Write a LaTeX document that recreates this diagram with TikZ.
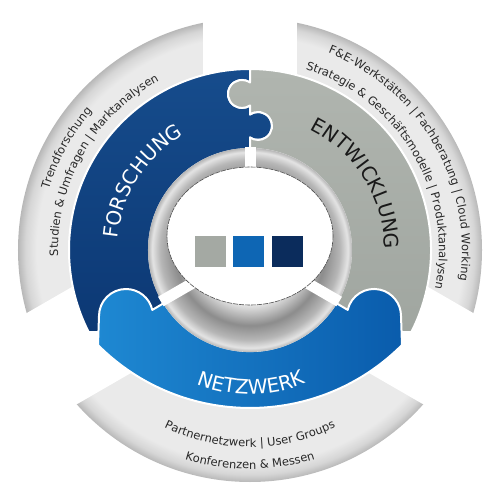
\documentclass[tikz,border=0pt]{standalone}
\usepackage{fontspec}
\setmainfont{DejaVu Sans}
\usepackage{tikz}
\usetikzlibrary{positioning, decorations.text}
\usepackage{xcolor}
\definecolor{ringlight}{RGB}{234,234,234}
\definecolor{ringmid}{RGB}{214,214,214}
\definecolor{ringdark}{RGB}{184,184,184}
\definecolor{metallight}{RGB}{228,228,228}
\definecolor{metalmid}{RGB}{182,182,182}
\definecolor{metaldark}{RGB}{140,140,140}
\definecolor{forschungtop}{RGB}{22,76,140}
\definecolor{forschungbottom}{RGB}{12,56,116}
\definecolor{entwicklungtop}{RGB}{176,181,175}
\definecolor{entwicklungbottom}{RGB}{160,166,160}
\definecolor{netzwerkleft}{RGB}{30,136,210}
\definecolor{netzwerkright}{RGB}{10,92,172}
\definecolor{squaregray}{RGB}{164,169,163}
\definecolor{squareblue}{RGB}{14,102,180}
\definecolor{squarenavy}{RGB}{11,44,92}
\definecolor{ringtext}{RGB}{40,40,40}
\pgfdeclareradialshading{outerring}{\pgfpointorigin}{color(0bp)=(ringlight); color(23bp)=(ringlight); color(24.2bp)=(ringmid); color(25bp)=(ringdark); color(50bp)=(ringdark)}
\pgfdeclareradialshading{metalring}{\pgfpointorigin}{color(0bp)=(metallight); color(13.5bp)=(metallight); color(18.5bp)=(metaldark); color(22bp)=(metalmid); color(24bp)=(metallight); color(25bp)=(metalmid); color(50bp)=(metalmid)}
\newcommand\bandfont{\fontsize{20}{24}\selectfont}
\newcommand\ringfont{\fontsize{11.5}{14}\selectfont}
\tikzset{piece/.style={draw=white, line width=2pt, line join=round},colorsquare/.style={rectangle, minimum size=31pt, inner sep=0pt},gapband/.style={fill=white}}

\begin{document}
\begin{tikzpicture}[
        x=1pt, y=1pt,
        bandlabel/.style={decorate, decoration={text along path, text align=center, text format delimiters={[}{]}, text color=#1}},
        ringlabel/.style={decorate, decoration={text along path, text align=center, text format delimiters={[}{]}, text color=ringtext}},
    ]
        \useasboundingbox (-250,-250) rectangle (250,250);
        % Outer ring
        \shade[shading=outerring] (0,0) circle[radius=232];
        % Gaps between the outer segments
        \fill[gapband, rotate=90] (0,-47) rectangle (250,47);
        \fill[gapband, rotate=210] (0,-57) rectangle (250,47);
        \fill[gapband, rotate=330] (0,-47) rectangle (250,57);
        % Puzzle pieces
        \shade[piece, top color=forschungtop, bottom color=forschungbottom]
            (0,181) arc[start angle=90, end angle=207, radius=181] -- (-150,-82) -- (-110,-75) -- (214:101)
            arc[start angle=214, end angle=90, radius=101] -- (0,112.56)
            arc[start angle=-125, end angle=125, radius=14] -- (0,144.56)
            arc[start angle=305, end angle=55, radius=14] -- cycle;
        \shade[piece, top color=entwicklungtop, bottom color=entwicklungbottom]
            (0,181) -- (0,167.5) arc[start angle=55, end angle=305, radius=14] -- (0,135.5)
            arc[start angle=125, end angle=-125, radius=14] -- (0,101)
            arc[start angle=90, end angle=-34, radius=101] -- (110,-75) -- (150,-82) -- (-27:181)
            arc[start angle=-27, end angle=90, radius=181] -- cycle;
        \shade[piece, left color=netzwerkleft, right color=netzwerkright]
            (-152,-95) -- (-151,-66) arc[start angle=180, end angle=13, radius=27] -- (-86,-53)
            arc[start angle=211.6, end angle=328.4, radius=101] -- (97.7,-59.9)
            arc[start angle=167, end angle=0, radius=27] -- (152,-95)
            arc[start angle=-45, end angle=-135, radius=215] -- cycle;
        % Inner metal ring
        \shade[shading=metalring] (0,0) circle[radius=102];
        \foreach \a in {90,210,330} {
            \draw[white, line width=11pt] (\a:40) -- (\a:103);
        }
        \filldraw[fill=white, draw=gray!60!black, line width=0.6pt, dash pattern=on 5pt off 1pt] (0,14) ellipse[x radius=83, y radius=69];
        % Squares
        \node[colorsquare, fill=squareblue] (sqblue) at (-1.5,-1.5) {};
        \node[colorsquare, fill=squaregray, left=7pt of sqblue] (sqgray) {};
        \node[colorsquare, fill=squarenavy, right=8pt of sqblue] (sqnavy) {};
        % Band labels
        \path[bandlabel=white, decoration={text={[\bandfont]FORSCHUNG}}] (200:132.5) arc[start angle=200, end angle=95, radius=132.5];
        \path[bandlabel=black!90, decoration={text={[\bandfont]ENTWICKLUNG}}] (90:134.5) arc[start angle=90, end angle=-26, radius=134.5];
        \path[bandlabel=white, decoration={text={[\bandfont]NETZWERK}}] (225:144.5) arc[start angle=225, end angle=316, radius=144.5];
        % Ring labels
        \path[ringlabel, decoration={text={[\ringfont]Trendforschung}}] (200:210) arc[start angle=200, end angle=102, radius=210];
        \path[ringlabel, decoration={text={[\ringfont]Studien {\&} Umfragen | Marktanalysen}}] (205:192) arc[start angle=205, end angle=95, radius=192];
        \path[ringlabel, decoration={text={[\ringfont]F{\&}E-Werkstätten | Fachberatung | Cloud Working}}] (85:212) arc[start angle=85, end angle=-25, radius=212];
        \path[ringlabel, decoration={text={[\ringfont]Strategie {\&} Geschäftsmodelle | Produktanalysen}}] (86:189) arc[start angle=86, end angle=-25, radius=189];
        \path[ringlabel, decoration={text={[\ringfont]Partnernetzwerk | User Groups}}] (225:197) arc[start angle=225, end angle=315, radius=197];
        \path[ringlabel, decoration={text={[\ringfont]Konferenzen {\&} Messen}}] (230:219) arc[start angle=230, end angle=310, radius=219];
    \end{tikzpicture}
\end{document}
